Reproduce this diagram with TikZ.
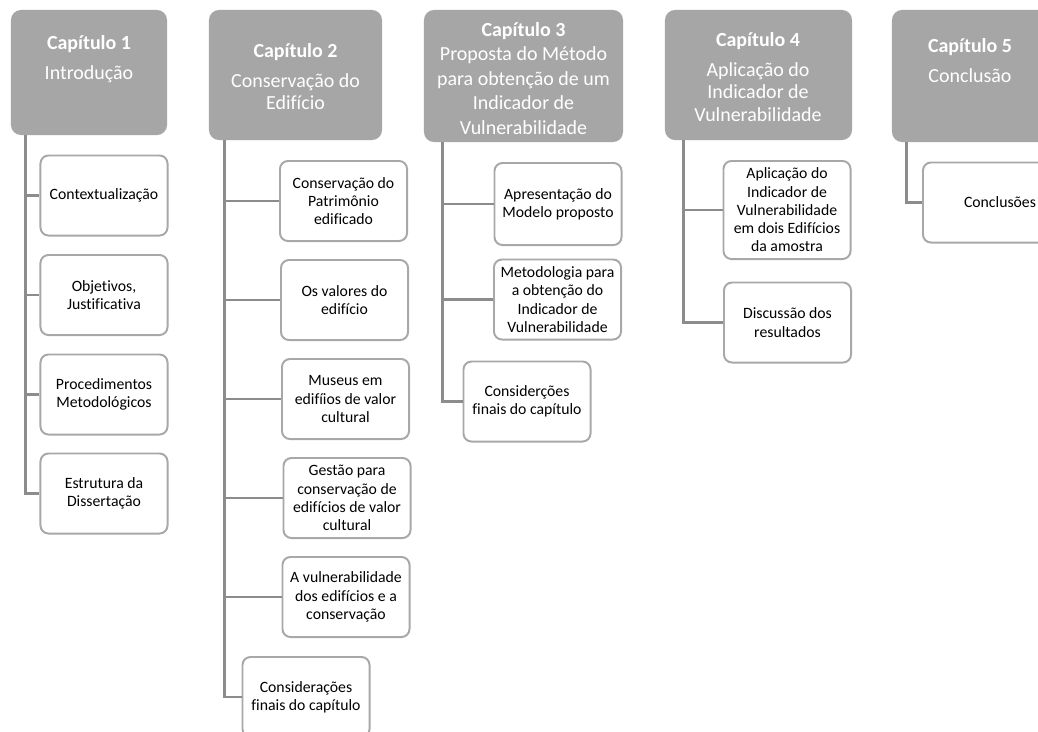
\documentclass[tikz,border=0pt]{standalone}
\usepackage{fontspec}
\setmainfont[Ligatures=NoCommon]{Carlito}
\usepackage{tikz}
\usepackage{xcolor}
\usetikzlibrary{calc}
\definecolor{cBox}{RGB}{166,166,166}
\definecolor{cEdge}{RGB}{168,168,168}
\definecolor{cLine}{RGB}{140,140,140}
\tikzset{
	chapbox/.style ={rectangle, rounded corners=0.25cm, fill=cBox, draw=none},
	chaptext/.style={text=white, align=center, inner sep=0pt, font=\fontsize{14.2}{16.2}\selectfont},
	topic/.style   ={rectangle, rounded corners=0.2cm, draw=cEdge, line width=1.4pt, fill=white, align=center, minimum width=3.175cm, minimum height=2cm, inner sep=2pt, font=\fontsize{11.2}{13}\selectfont},
	link/.style    ={draw=cLine, line width=2.1pt},
}
\begin{document}
\begin{tikzpicture}[x=0.025cm, y=-0.025cm]
	\clip (0,0) rectangle (1038,731);
	\fill[white] (0,0) rectangle (1038,731);
	% chapter headers
	\node[chapbox, minimum width=3.9cm, minimum height=3.125cm] (ch1) at (89,72.5) {};
	\node[chapbox, minimum width=4.325cm, minimum height=3.25cm] (ch2) at (295.5,75) {};
	\node[chapbox, minimum width=4.975cm, minimum height=3.3cm] (ch3) at (523.5,76) {};
	\node[chapbox, minimum width=4.675cm, minimum height=3.25cm] (ch4) at (758.5,75) {};
	\node[chapbox, minimum width=3.9cm, minimum height=3.3cm] (ch5) at (970,76) {};
	\node[chaptext, anchor=north] (ch1t) at (89,35) {\textbf{Capítulo 1}\\[5pt]Introdução};
	\node[chaptext, anchor=north] (ch2t) at (295.5,43) {\textbf{Capítulo 2}\\[5pt]Conservação do\\Edifício};
	\node[chaptext, anchor=north, font=\fontsize{14.2}{17.4}\selectfont] (ch3t) at (523.5,22) {\textbf{Capítulo 3}\\Proposta do Método\\para obtenção de um\\Indicador de\\Vulnerabilidade};
	\node[chaptext, anchor=north] (ch4t) at (758,32) {\textbf{Capítulo 4}\\[5pt]Aplicação do\\Indicador de\\Vulnerabilidade};
	\node[chaptext, anchor=north] (ch5t) at (970,38) {\textbf{Capítulo 5}\\[5pt]Conclusão};
	% spines
	\coordinate (sp1) at ($(ch1.south west)+(14.6,0)$);
	\coordinate (sp2) at ($(ch2.south west)+(16,0)$);
	\coordinate (sp3) at ($(ch3.south west)+(19,0)$);
	\coordinate (sp4) at ($(ch4.south west)+(18.5,0)$);
	\coordinate (sp5) at ($(ch5.south west)+(15,0)$);
	% chapter 1 topics
	\node[topic] (t11) at (104,195.5) {Contextualização};
	\node[topic] (t12) at (104,295) {Objetivos,\\Justificativa};
	\node[topic] (t13) at (104,394.5) {Procedimentos\\Metodológicos};
	\node[topic] (t14) at (104,493.5) {Estrutura da\\Dissertação};
	% chapter 2 topics
	\node[topic] (t21) at (343.5,201) {Conservação do\\Patrimônio\\edificado};
	\node[topic] (t22) at (344.5,300) {Os valores do\\edifício};
	\node[topic] (t23) at (345.5,399) {Museus em\\edifíios de valor\\cultural};
	\node[topic] (t24) at (347,498) {Gestão para\\conservação de\\edifícios de valor\\cultural};
	\node[topic] (t25) at (346,597) {A vulnerabilidade\\dos edifícios e a\\conservação};
	\node[topic] (t26) at (306,697) {Considerações\\finais do capítulo};
	% chapter 3 topics
	\node[topic, minimum height=2.05cm] (t31) at (558,204) {Apresentação do\\Modelo proposto};
	\node[topic] (t32) at (557.5,299.5) {Metodologia para\\a obtenção do\\Indicador de\\Vulnerabilidade};
	\node[topic] (t33) at (527,401.5) {Considerções\\finais do capítulo};
	% chapter 4 topics
	\node[topic, minimum height=2.45cm] (t41) at (787,210) {Aplicação do\\Indicador de\\Vulnerabilidade\\em dois Edifícios\\da amostra};
	\node[topic] (t42) at (787.5,322.5) {Discussão dos\\resultados};
	% chapter 5 topics
	\node[topic, minimum width=3.85cm] (t51) at (1000,202.5) {Conclusões};
	% connectors
	\draw[link] (sp1) |- (t11.west);
	\draw[link] (sp1) |- (t12.west);
	\draw[link] (sp1) |- (t13.west);
	\draw[link] (sp1) |- (t14.west);
	\draw[link] (sp2) |- (t21.west);
	\draw[link] (sp2) |- (t22.west);
	\draw[link] (sp2) |- (t23.west);
	\draw[link] (sp2) |- (t24.west);
	\draw[link] (sp2) |- (t25.west);
	\draw[link] (sp2) |- (t26.west);
	\draw[link] (sp3) |- (t31.west);
	\draw[link] (sp3) |- (t32.west);
	\draw[link] (sp3) |- (t33.west);
	\draw[link] (sp4) |- (t41.west);
	\draw[link] (sp4) |- (t42.west);
	\draw[link] (sp5) |- (t51.west);
\end{tikzpicture}
\end{document}
